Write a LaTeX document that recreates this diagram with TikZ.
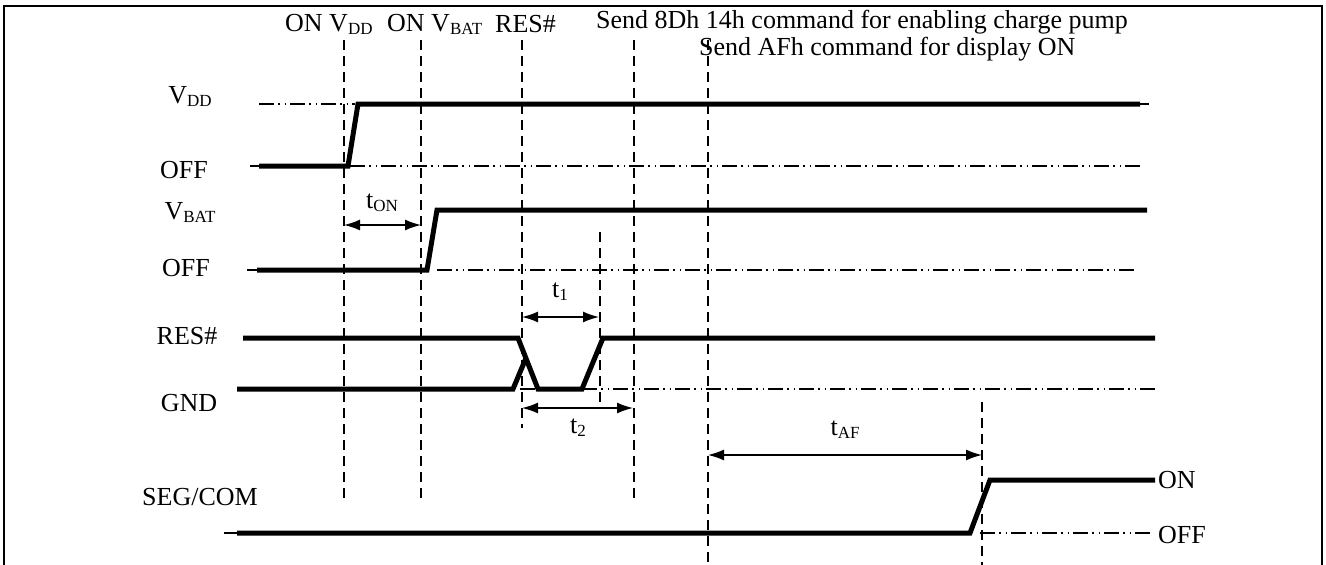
\documentclass[tikz,border=0pt]{standalone}
\usepackage{fontspec}
\setmainfont{Liberation Serif}
\usetikzlibrary{arrows.meta}
\newcommand\subtx[1]{\raisebox{-3pt}{\fontsize{17}{17}\selectfont #1}}
\begin{document}
\begin{tikzpicture}[x=1pt,y=-1pt,
  frame/.style={line width=2.5pt},
  sig/.style={line width=5pt},
  stub/.style={line width=1.5pt},
  vdash/.style={line width=1.5pt,dash pattern=on 10pt off 6pt},
  ddot/.style={line width=1.5pt,dash pattern=on 15pt off 4pt on 1.5pt off 5pt on 1.5pt off 4pt},
  dim/.style={line width=1.5pt,{Latex[length=16pt,width=11pt]}-{Latex[length=16pt,width=11pt]}},
  lbl/.style={inner sep=0pt,font=\fontsize{26}{30}\selectfont},
  every node/.style={inner sep=0pt}]
\useasboundingbox (0,0) rectangle (1326,565);
% frame
\draw[frame] (4,570) -- (4,6) -- (1322,6) -- (1322,570);

% top texts
\node[lbl,anchor=west] (tvdd) at (285,24) {ON V\subtx{DD}};
\node[lbl,anchor=west] (tvbat) at (387,24) {ON V\subtx{BAT}};
\node[lbl,anchor=west] (tres) at (495,24) {RES\#};
\node[lbl,anchor=west] (tcp) at (596,22) {Send 8Dh 14h command for enabling charge pump};
\node[lbl,anchor=west] (taf) at (699,49) {Send AFh command for display ON};

% left labels
\node[lbl] (lvdd) at (190,97) {V\subtx{DD}};
\node[lbl] (loff1) at (184,170) {OFF};
\node[lbl] (lvbat) at (190,213) {V\subtx{BAT}};
\node[lbl] (loff2) at (186,268) {OFF};
\node[lbl] (lres) at (187,336) {RES\#};
\node[lbl] (lgnd) at (189,403) {GND};
\node[lbl] (lseg) at (200,497) {SEG/COM};
\node[lbl,anchor=west] (ron) at (1158,480) {ON};
\node[lbl,anchor=west] (roff) at (1158,535) {OFF};

% vertical dashed lines
\coordinate (A1) at (344,40);  \coordinate (A2) at (344,500);
\coordinate (B1) at (421,40);  \coordinate (B2) at (421,500);
\coordinate (C1) at (522,40);  \coordinate (C2) at (522,428);
\coordinate (D1) at (634,40);  \coordinate (D2) at (634,500);
\coordinate (E1) at (708,40);  \coordinate (E2) at (708,568);
\coordinate (F1) at (600,232); \coordinate (F2) at (600,402);
\coordinate (G1) at (982,402); \coordinate (G2) at (982,568);
\foreach \p in {A,B,C,D,E,F,G} \draw[vdash] (\p1) -- (\p2);

% reference dash-dot lines
\draw[ddot] (259,104) -- (355,104);
\draw[ddot] (350,166) -- (1140,166);
\draw[ddot] (437,270) -- (1136,270);
\draw[ddot] (520,389) -- (1157,389);
\draw[ddot] (980,533) -- (1152,533);

% VDD
\draw[stub] (250,166) -- (259,166);
\draw[sig] (259,166) -- (348,166) -- (358,104) -- (1140,104);
\draw[stub] (1140,104) -- (1149,104);
% VBAT
\draw[stub] (247,270) -- (257,270);
\draw[sig] (257,270) -- (427,270) -- (437,210) -- (1147,210);
% RES#
\draw[sig] (243,338) -- (518,338) -- (538,389) -- (582,389) -- (603,338) -- (1155,338);
% GND
\draw[sig] (237,389) -- (513,389) -- (526,358);
% SEG/COM
\draw[stub] (224,533) -- (237,533);
\draw[sig] (237,533) -- (970,533) -- (990,480) -- (1155,480);

% dimensions
\coordinate (tonL) at (344,225); \coordinate (tonR) at (421,225);
\draw[dim] (tonL) -- (tonR);
\node[lbl] (lton) at (382,203) {t\subtx{ON}};
\coordinate (t1L) at (522,317); \coordinate (t1R) at (599,317);
\draw[dim] (t1L) -- (t1R);
\node[lbl] (lt1) at (560,292) {t\subtx{1}};
\coordinate (t2L) at (522,408); \coordinate (t2R) at (633,408);
\draw[dim] (t2L) -- (t2R);
\node[lbl] (lt2) at (578,428) {t\subtx{2}};
\coordinate (tafL) at (708,455); \coordinate (tafR) at (982,455);
\draw[dim] (tafL) -- (tafR);
\node[lbl] (ltaf) at (845,430) {t\subtx{AF}};
\end{tikzpicture}
\end{document}
